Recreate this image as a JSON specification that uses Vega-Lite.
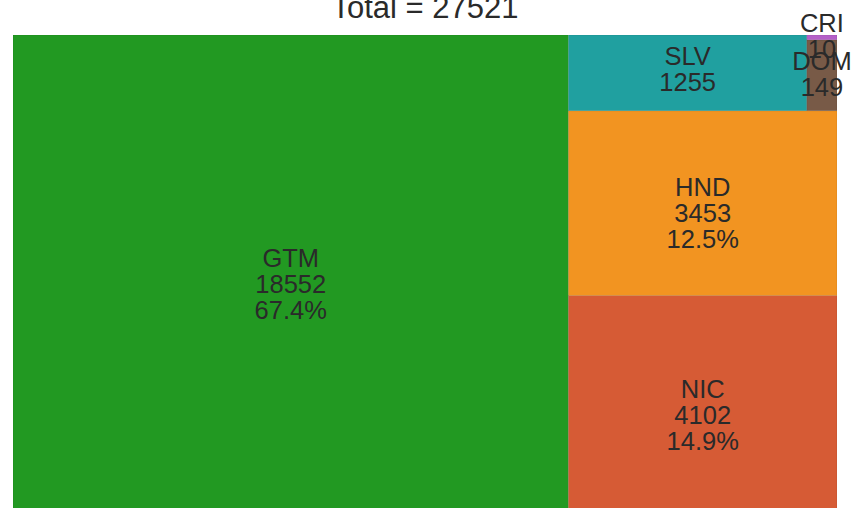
{
  "$schema": "https://vega.github.io/schema/vega-lite/v6.json",
  "width": 824,
  "height": 473,
  "autosize": {"type": "none"},
  "padding": {"left": 13, "top": 35, "right": 15, "bottom": 0},
  "background": "white",
  "config": {"view": {"stroke": null}},
  "title": {
    "text": "Total = 27521",
    "fontSize": 31,
    "font": "Liberation Sans",
    "fontWeight": "normal",
    "color": "#2a2a2a",
    "anchor": "middle",
    "offset": -13
  },
  "data": {
    "values": [
      {"country": "GTM", "value": 18552, "col": "A", "band": "GTM", "cell": "GTM"},
      {"country": "NIC", "value": 4102, "col": "B", "band": "NIC", "cell": "NIC"},
      {"country": "HND", "value": 3453, "col": "B", "band": "HND", "cell": "HND"},
      {"country": "SLV", "value": 1255, "col": "B", "band": "TOP", "cell": "SLV"},
      {"country": "DOM", "value": 149, "col": "B", "band": "TOP", "cell": "SMALL"},
      {"country": "CRI", "value": 10, "col": "B", "band": "TOP", "cell": "SMALL"}
    ]
  },
  "transform": [
    {"joinaggregate": [{"op": "sum", "field": "value", "as": "T"}]},
    {"joinaggregate": [{"op": "sum", "field": "value", "as": "colSum"}], "groupby": ["col"]},
    {"joinaggregate": [{"op": "sum", "field": "value", "as": "bandSum"}], "groupby": ["band"]},
    {"joinaggregate": [{"op": "sum", "field": "value", "as": "cellSum"}], "groupby": ["cell"]},
    {"window": [{"op": "sum", "field": "value", "as": "cumCol"}], "sort": [{"field": "colSum", "order": "descending"}], "frame": [null, 0]},
    {"window": [{"op": "sum", "field": "value", "as": "cumBand"}], "groupby": ["col"], "sort": [{"field": "bandSum", "order": "descending"}], "frame": [null, 0]},
    {"window": [{"op": "sum", "field": "value", "as": "cumCell"}], "groupby": ["band"], "sort": [{"field": "cellSum", "order": "descending"}], "frame": [null, 0]},
    {"window": [{"op": "sum", "field": "value", "as": "cumLeaf"}], "groupby": ["cell"], "sort": [{"field": "value", "order": "descending"}], "frame": [null, 0]},
    {"calculate": "(datum.cumCol - datum.colSum) / datum.T", "as": "cx0"},
    {"calculate": "datum.cumCol / datum.T", "as": "cx1"},
    {"calculate": "(datum.cumBand - datum.bandSum) / datum.colSum", "as": "by0"},
    {"calculate": "datum.cumBand / datum.colSum", "as": "by1"},
    {"calculate": "datum.cx0 + (datum.cx1 - datum.cx0) * (datum.cumCell - datum.cellSum) / datum.bandSum", "as": "x0"},
    {"calculate": "datum.cx0 + (datum.cx1 - datum.cx0) * datum.cumCell / datum.bandSum", "as": "x1"},
    {"calculate": "datum.by0 + (datum.by1 - datum.by0) * (datum.cumLeaf - datum.value) / datum.cellSum", "as": "y0"},
    {"calculate": "datum.by0 + (datum.by1 - datum.by0) * datum.cumLeaf / datum.cellSum", "as": "y1"},
    {"calculate": "(datum.x0 + datum.x1) / 2", "as": "xm"},
    {"calculate": "(datum.y0 + datum.y1) / 2", "as": "ym"},
    {"calculate": "datum.value / datum.T", "as": "share"},
    {"calculate": "datum.share >= 0.1 ? [datum.country, format(datum.value, 'd'), format(datum.share, '.1%')] : [datum.country, format(datum.value, 'd')]", "as": "label"}
  ],
  "layer": [
    {
      "mark": {"type": "rect", "clip": true, "stroke": "#000000", "strokeOpacity": 0.08, "strokeWidth": 1},
      "encoding": {
        "x": {"field": "x0", "type": "quantitative", "axis": null, "scale": {"domain": [0, 1], "nice": false, "zero": false}},
        "x2": {"field": "x1"},
        "y": {"field": "y0", "type": "quantitative", "axis": null, "scale": {"domain": [0.01458, 1], "nice": false, "zero": false}},
        "y2": {"field": "y1"},
        "color": {
          "field": "country",
          "type": "nominal",
          "legend": null,
          "scale": {
            "domain": ["GTM", "NIC", "HND", "SLV", "DOM", "CRI"],
            "range": ["#229922", "#d65b35", "#f29421", "#20a0a0", "#785a47", "#b460c8"]
          }
        }
      }
    },
    {
      "transform": [{"filter": "datum.share >= 0.02"}],
      "mark": {"type": "text", "font": "Liberation Sans", "fontSize": 25.5, "lineHeight": 26, "color": "#2a2a2a", "align": "center", "baseline": "middle", "dy": -15.5},
      "encoding": {
        "x": {"field": "xm", "type": "quantitative"},
        "y": {"field": "ym", "type": "quantitative"},
        "text": {"field": "label"}
      }
    },
    {
      "transform": [{"filter": "datum.share < 0.02"}],
      "mark": {"type": "text", "font": "Liberation Sans", "fontSize": 25.5, "lineHeight": 26, "color": "#2a2a2a", "align": "center", "baseline": "middle", "dy": -13},
      "encoding": {
        "x": {"field": "xm", "type": "quantitative"},
        "y": {"field": "ym", "type": "quantitative"},
        "text": {"field": "label"}
      }
    }
  ]
}
